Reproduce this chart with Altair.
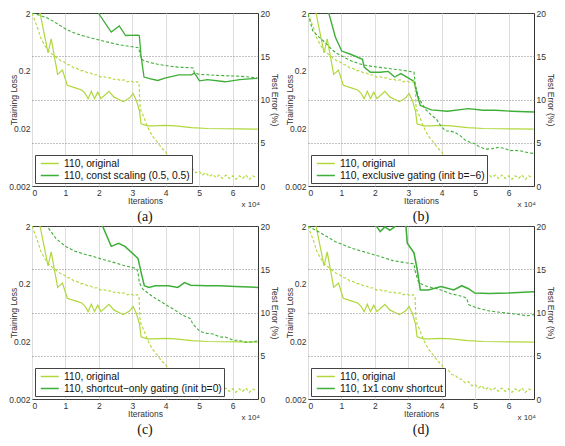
import altair as alt
import pandas as pd

X_MAX = 67600
LIGHT = "#b0d83c"
DARK = "#3fae38"
ORIG = "110, original"
W, H = 226, 173
FONT = "Liberation Sans"

# ---- original ResNet-110 (same in every panel) ----
orig_te_it = [1800, 2400, 4800, 5750, 7670, 9110, 10550, 12950, 14860, 15820, 16780, 17740, 18700,
              19660, 20620, 22060, 23020, 24450, 27330, 29250, 30210, 31170, 32140, 32620, 34530,
              36200, 40000, 42900, 47700, 52500, 57300, 62100, 67500]
orig_te = [24.0, 20.0, 15.4, 17.0, 12.9, 13.4, 11.65, 11.35, 11.1, 10.75, 10.1, 10.95, 10.1,
           10.85, 10.1, 10.6, 10.95, 10.3, 9.75, 10.2, 10.7, 9.95, 8.7, 7.2, 6.95,
           6.95, 7.0, 6.95, 6.75, 6.65, 6.62, 6.6, 6.58]
orig_tl_it = [0, 800, 1600, 2600, 3600, 4500, 5500, 6500, 7500, 8500, 9500, 10500, 11500, 12500,
              13500, 14500, 15500, 16500, 17500, 18500, 19500, 20500, 21500, 22500, 23500, 24500,
              25500, 26500, 27500, 28500, 29500, 30500, 31500, 32000,
              32300, 32600, 33300, 34200, 35200, 36200, 37100, 38100, 39000,
              40000, 41000, 42000, 43000, 44000, 45000, 46000, 47000, 48000, 49000, 50000, 51000,
              52000, 53000, 54000, 55000, 56000, 57000, 58000, 59000, 60000, 61000, 62000, 63000,
              64000, 65000, 66000, 67000]
orig_tl = [2.0, 1.5, 1.13, 0.74, 0.57, 0.47, 0.41, 0.37, 0.33, 0.30, 0.285, 0.255, 0.25, 0.222,
           0.218, 0.2, 0.2, 0.185, 0.182, 0.168, 0.17, 0.155, 0.158, 0.148, 0.151, 0.141,
           0.145, 0.134, 0.139, 0.128, 0.134, 0.124, 0.129, 0.122,
           0.05, 0.04, 0.033, 0.024, 0.0178, 0.0142, 0.0123, 0.0103, 0.0089,
           0.0078, 0.0062, 0.0063, 0.0053, 0.0052, 0.0045, 0.0044, 0.0038, 0.0040, 0.0034, 0.0036, 0.0031,
           0.0034, 0.0029, 0.0032, 0.0028, 0.0031, 0.0027, 0.0031, 0.0027, 0.0030, 0.0026, 0.0030, 0.0027,
           0.0031, 0.0026, 0.0030, 0.0028]

# ---- (a) const scaling ----
a_label = "110, const scaling (0.5, 0.5)"
a_te_it = [19200, 20000, 23700, 26100, 28000, 31700, 32100, 32600, 33500, 35200, 37600, 40000,
           43900, 47700, 48600, 50100, 52500, 57800, 62100, 67400]
a_te = [22.0, 19.9, 17.8, 18.5, 17.4, 17.45, 17.4, 15.1, 12.6, 12.4, 12.2, 12.5,
        12.85, 12.85, 13.05, 12.15, 12.3, 12.05, 12.3, 12.45]
a_tl_it = [0, 2000, 4500, 6500, 8400, 10500, 13100, 15500, 18000, 20500, 22700, 25000, 27500,
           30000, 31900, 32500, 33300, 35500, 38100, 40500, 42900, 45000, 47700, 48200, 48600,
           50500, 52500, 55000, 57300, 60000, 62100, 65000, 67400]
a_tl = [2.0, 1.85, 1.65, 1.42, 1.21, 1.02, 0.88, 0.80, 0.73, 0.67, 0.625, 0.58, 0.545,
        0.52, 0.50, 0.34, 0.30, 0.275, 0.255, 0.243, 0.233, 0.228, 0.225, 0.222, 0.18,
        0.172, 0.17, 0.166, 0.164, 0.162, 0.16, 0.155, 0.15]

# ---- (b) exclusive gating ----
b_label = "110, exclusive gating (init b=\u22126)"
b_te_it = [5800, 6200, 8200, 10100, 12900, 16300, 16800, 18700, 21600, 24000, 25900, 27800,
           30200, 31700, 32600, 33600, 36900, 41700, 48000, 52300, 56100, 60900, 67600]
b_te = [22.0, 20.0, 17.2, 15.6, 15.2, 14.65, 13.75, 13.15, 13.15, 13.25, 12.6, 13.0,
        12.45, 12.1, 10.6, 9.3, 8.8, 8.65, 8.95, 8.75, 8.75, 8.65, 8.55]
b_tl_it = [0, 700, 1400, 2900, 4300, 5800, 7200, 8600, 10100, 11500, 12900, 14800, 16800, 18200,
           19700, 21500, 23500, 25400, 27300, 29500, 31700, 32100, 33100, 35000, 36900, 38400,
           39800, 41200, 42700, 44100, 45600, 47000, 48400, 49900, 51300, 53200, 55200, 57000,
           59000, 60400, 61900, 63800, 65700, 67600]
b_tl = [1.9, 1.4, 0.99, 0.8, 0.68, 0.56, 0.46, 0.4, 0.36, 0.325, 0.296, 0.27, 0.25, 0.242,
        0.235, 0.228, 0.22, 0.213, 0.207, 0.198, 0.189, 0.114, 0.068, 0.0436, 0.0338, 0.029,
        0.0217, 0.018, 0.0179, 0.0168, 0.0148, 0.0125, 0.0115, 0.0108, 0.0095, 0.0087, 0.0089, 0.0094,
        0.0089, 0.0082, 0.0083, 0.0081, 0.0076, 0.0073]

# ---- (c) shortcut-only gating ----
c_label = "110, shortcut\u2212only gating (init b=0)"
c_te_it = [20600, 21100, 23700, 25900, 27800, 31700, 32600, 33600, 35000, 36900, 40800, 43600,
           45600, 47500, 52300, 56100, 60900, 67600]
c_te = [22.0, 20.0, 17.65, 18.0, 17.65, 16.25, 14.7, 13.1, 12.9, 13.1, 13.1, 12.9,
        13.45, 13.15, 13.1, 13.1, 13.0, 12.9]
c_tl_it = [4300, 4800, 7200, 10100, 12900, 15300, 17700, 20100, 22500, 25000, 27300, 29300, 31200,
           31700, 32100, 33100, 35000, 36900, 38800, 40800, 42700, 44600, 46500, 47500, 48000,
           49200, 50400, 52300, 54200, 56100, 58000, 60000, 61900, 63800, 65700, 67600]
c_tl = [2.2, 1.88, 1.21, 0.88, 0.73, 0.66, 0.607, 0.55, 0.502, 0.458, 0.416, 0.39, 0.367,
        0.324, 0.208, 0.162, 0.133, 0.111, 0.096, 0.0811, 0.07, 0.059, 0.052, 0.049, 0.0407,
        0.034, 0.0295, 0.0275, 0.0268, 0.0238, 0.0236, 0.021, 0.0208, 0.0193, 0.0196, 0.0204]

# ---- (d) 1x1 conv shortcut ----
d_label = "110, 1x1 conv shortcut"
d_te_it = [20000, 20400, 21600, 23000, 24500, 25900, 26300, 29000, 29700, 31700, 32600, 33600,
           36000, 39800, 43600, 46000, 48000, 49900, 54200, 59900, 67600]
d_te = [21.0, 20.0, 19.35, 19.9, 19.5, 19.9, 21.5, 21.5, 18.0, 16.9, 15.1, 12.6,
        12.6, 13.0, 12.6, 13.1, 12.75, 12.25, 12.2, 12.25, 12.4]
d_tl_it = [0, 3400, 8200, 12900, 17700, 21600, 25400, 29300, 31700, 32100, 33100, 35000, 38800,
           42700, 46500, 47500, 48000, 50400, 54200, 58000, 61900, 65700, 67600]
d_tl = [2.0, 1.56, 1.07, 0.83, 0.687, 0.59, 0.502, 0.46, 0.443, 0.324, 0.208, 0.184, 0.162,
        0.134, 0.119, 0.111, 0.0865, 0.0764, 0.0673, 0.0632, 0.0594, 0.0557, 0.058]

x_ticks = [0, 10000, 20000, 30000, 40000, 50000, 60000]
loss_ticks = [0.002, 0.02, 0.2, 2]
err_ticks = [0, 5, 10, 15, 20]


def panel(letter, label, te_it, te, tl_it, tl):
    te_df = pd.DataFrame({
        "it": orig_te_it + te_it,
        "v": orig_te + te,
        "s": [ORIG] * len(orig_te) + [label] * len(te),
    })
    tl_df = pd.DataFrame({
        "it": orig_tl_it + tl_it,
        "v": orig_tl + tl,
        "s": [ORIG] * len(orig_tl) + [label] * len(tl),
    })
    x = alt.X("it:Q", scale=alt.Scale(domain=[0, X_MAX], nice=False, zero=False),
              axis=alt.Axis(values=x_ticks, labelExpr="datum.value / 10000", title="Iterations",
                            titlePadding=0))
    cscale = alt.Scale(domain=[ORIG, label], range=[LIGHT, DARK])
    leg = alt.Legend(title=None, orient="bottom-left", offset=3,
                     symbolType="M-0.5,0H2.8", symbolSize=120, symbolDash=[1, 0],
                     symbolStrokeWidth=1.6, labelFont=FONT,
                     labelFontSize=10.3, labelColor="#111", labelLimit=400,
                     strokeColor="#444", fillColor="white", padding=2,
                     rowPadding=0, labelOffset=14, cornerRadius=0)
    wscale = alt.Scale(domain=[ORIG, label], range=[1.2, 1.6])
    te_layer = alt.Chart(te_df).mark_line(clip=True).encode(
        x=x,
        y=alt.Y("v:Q", scale=alt.Scale(domain=[0, 20], nice=False, zero=False),
                axis=alt.Axis(orient="right", values=err_ticks, grid=True, gridDash=[1, 2],
                              gridColor="#666", gridWidth=0.8, title="Test Error (%)",
                              titleX=16, titleY=H / 2, titleBaseline="middle", titleAngle=90)),
        color=alt.Color("s:N", scale=cscale, legend=leg),
        strokeWidth=alt.StrokeWidth("s:N", scale=wscale, legend=None),
    )
    tl_layer = alt.Chart(tl_df).mark_line(clip=True, strokeWidth=1.1, strokeDash=[3, 2]).encode(
        x=x,
        y=alt.Y("v:Q", scale=alt.Scale(type="log", domain=[0.002, 2], nice=False),
                axis=alt.Axis(orient="left", values=loss_ticks, format="~g", title="Training Loss",
                              titleX=-19, titleY=H / 2, titleBaseline="middle", titleAngle=270)),
        color=alt.Color("s:N", scale=cscale, legend=leg),
    )
    txt = alt.Chart(pd.DataFrame({"t": ["x 10\u2074"]})).mark_text(
        align="right", baseline="middle", font=FONT, fontSize=8, color="#333"
    ).encode(x=alt.value(W + 2), y=alt.value(H + 19), text="t:N")
    return alt.layer(te_layer, tl_layer, txt).resolve_scale(y="independent").properties(
        width=W, height=H,
        title=alt.TitleParams(letter, orient="bottom", anchor="middle", font="Liberation Serif",
                              fontSize=14, fontWeight="normal", color="#111", offset=1),
    )


pa = panel("(a)", a_label, a_te_it, a_te, a_tl_it, a_tl)
pb = panel("(b)", b_label, b_te_it, b_te, b_tl_it, b_tl)
pc = panel("(c)", c_label, c_te_it, c_te, c_tl_it, c_tl)
pd_ = panel("(d)", d_label, d_te_it, d_te, d_tl_it, d_tl)

chart = alt.concat(pa, pb, pc, pd_, columns=2, spacing={"row": 40, "column": 50},
                   bounds="flush").resolve_scale(color="independent").properties(
    padding=0
).configure_view(stroke="#333", strokeWidth=1).configure_axis(
    labelFont=FONT, labelFontSize=8.5, labelColor="#333", labelPadding=2,
    titleFont=FONT, titleFontSize=8.5, titleFontWeight="normal", titleColor="#333",
    domain=False, ticks=False,
)

chart.save("out.html", embed_options={"renderer": "svg", "actions": False})
